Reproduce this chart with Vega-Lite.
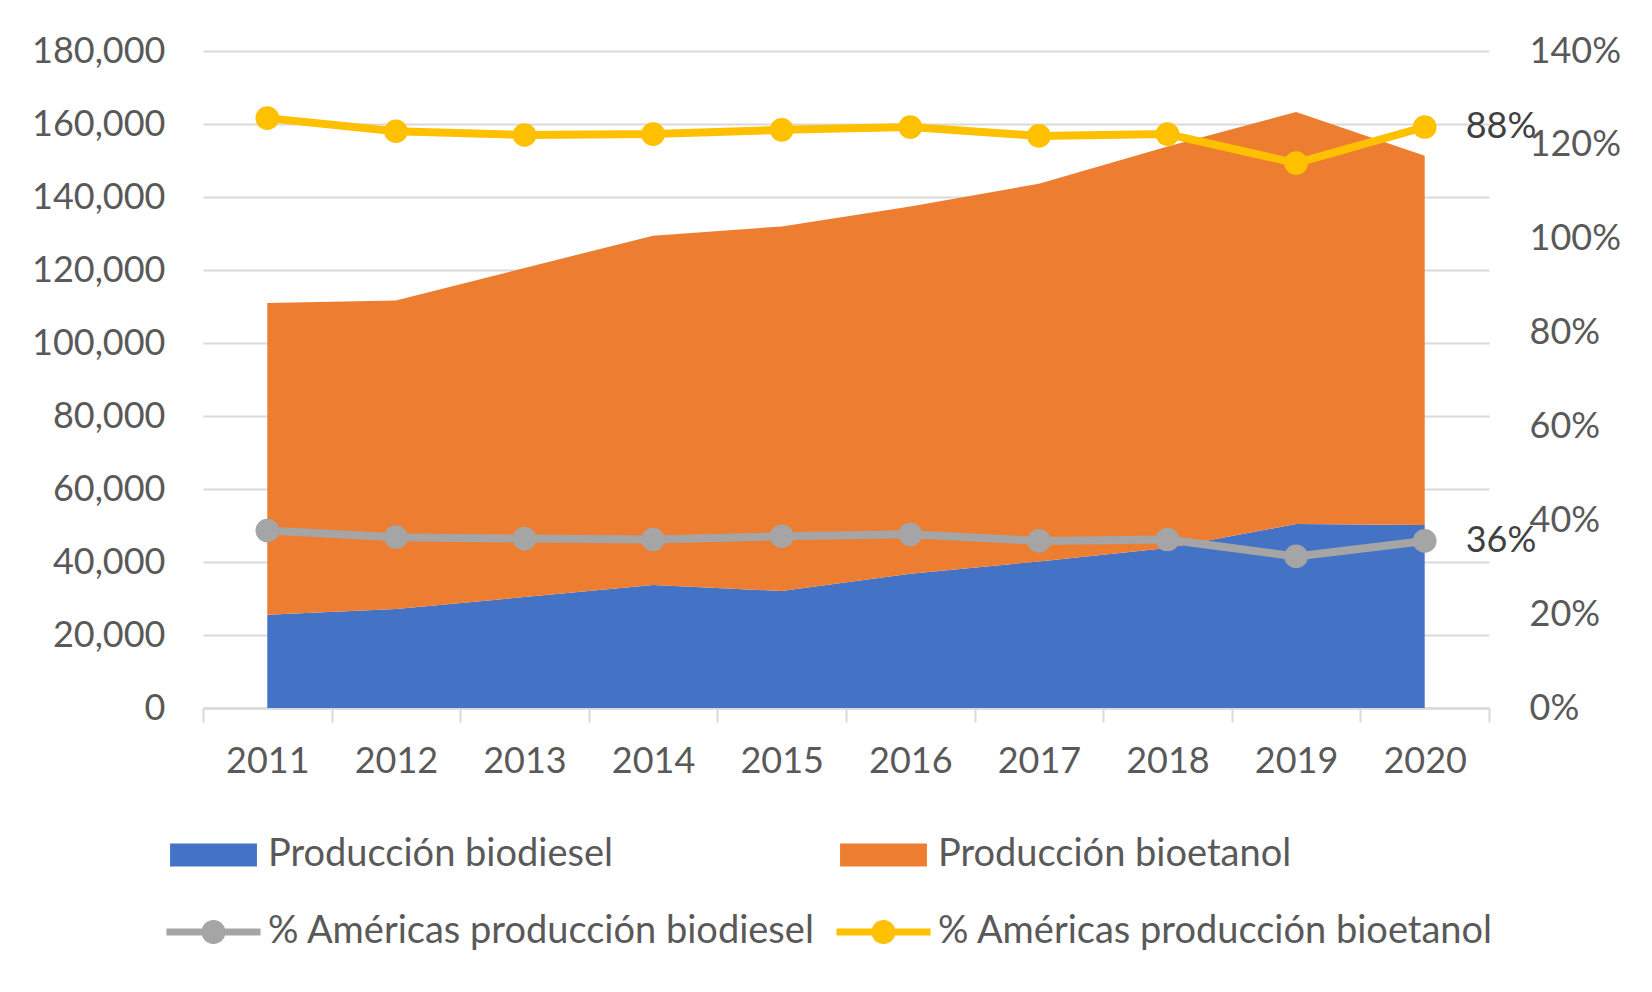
{
  "$schema": "https://vega.github.io/schema/vega-lite/v6.json",
  "autosize": {"type": "none"},
  "padding": {"left": 203, "top": 51, "right": 163, "bottom": 284},
  "width": 1286,
  "height": 657,
  "background": "white",
  "config": {
    "view": {"stroke": null},
    "font": "Lato",
    "axis": {"labelFont": "Lato", "labelFontSize": 36, "labelColor": "#595959", "title": null},
    "legend": {"labelFont": "Lato", "labelFontSize": 38, "labelColor": "#595959"}
  },
  "datasets": {
    "prod": [
      {"year": "2011", "serie": "Producción biodiesel", "ord": 1, "value": 25560},
      {"year": "2012", "serie": "Producción biodiesel", "ord": 1, "value": 27120},
      {"year": "2013", "serie": "Producción biodiesel", "ord": 1, "value": 30400},
      {"year": "2014", "serie": "Producción biodiesel", "ord": 1, "value": 33700},
      {"year": "2015", "serie": "Producción biodiesel", "ord": 1, "value": 32050},
      {"year": "2016", "serie": "Producción biodiesel", "ord": 1, "value": 36800},
      {"year": "2017", "serie": "Producción biodiesel", "ord": 1, "value": 40160},
      {"year": "2018", "serie": "Producción biodiesel", "ord": 1, "value": 43830},
      {"year": "2019", "serie": "Producción biodiesel", "ord": 1, "value": 50410},
      {"year": "2020", "serie": "Producción biodiesel", "ord": 1, "value": 50140},
      {"year": "2011", "serie": "Producción bioetanol", "ord": 2, "value": 85400},
      {"year": "2012", "serie": "Producción bioetanol", "ord": 2, "value": 84550},
      {"year": "2013", "serie": "Producción bioetanol", "ord": 2, "value": 90150},
      {"year": "2014", "serie": "Producción bioetanol", "ord": 2, "value": 95700},
      {"year": "2015", "serie": "Producción bioetanol", "ord": 2, "value": 99900},
      {"year": "2016", "serie": "Producción bioetanol", "ord": 2, "value": 100620},
      {"year": "2017", "serie": "Producción bioetanol", "ord": 2, "value": 103480},
      {"year": "2018", "serie": "Producción bioetanol", "ord": 2, "value": 110040},
      {"year": "2019", "serie": "Producción bioetanol", "ord": 2, "value": 112880},
      {"year": "2020", "serie": "Producción bioetanol", "ord": 2, "value": 101180}
    ],
    "pct": [
      {"year": "2011", "serie": "% Américas producción biodiesel", "ord": 1, "share": 0.378},
      {"year": "2012", "serie": "% Américas producción biodiesel", "ord": 1, "share": 0.364},
      {"year": "2013", "serie": "% Américas producción biodiesel", "ord": 1, "share": 0.361},
      {"year": "2014", "serie": "% Américas producción biodiesel", "ord": 1, "share": 0.359},
      {"year": "2015", "serie": "% Américas producción biodiesel", "ord": 1, "share": 0.366},
      {"year": "2016", "serie": "% Américas producción biodiesel", "ord": 1, "share": 0.370},
      {"year": "2017", "serie": "% Américas producción biodiesel", "ord": 1, "share": 0.356},
      {"year": "2018", "serie": "% Américas producción biodiesel", "ord": 1, "share": 0.359},
      {"year": "2019", "serie": "% Américas producción biodiesel", "ord": 1, "share": 0.323},
      {"year": "2020", "serie": "% Américas producción biodiesel", "ord": 1, "share": 0.356},
      {"year": "2011", "serie": "% Américas producción bioetanol", "ord": 2, "share": 0.879},
      {"year": "2012", "serie": "% Américas producción bioetanol", "ord": 2, "share": 0.865},
      {"year": "2013", "serie": "% Américas producción bioetanol", "ord": 2, "share": 0.860},
      {"year": "2014", "serie": "% Américas producción bioetanol", "ord": 2, "share": 0.864},
      {"year": "2015", "serie": "% Américas producción bioetanol", "ord": 2, "share": 0.866},
      {"year": "2016", "serie": "% Américas producción bioetanol", "ord": 2, "share": 0.868},
      {"year": "2017", "serie": "% Américas producción bioetanol", "ord": 2, "share": 0.863},
      {"year": "2018", "serie": "% Américas producción bioetanol", "ord": 2, "share": 0.864},
      {"year": "2019", "serie": "% Américas producción bioetanol", "ord": 2, "share": 0.838},
      {"year": "2020", "serie": "% Américas producción bioetanol", "ord": 2, "share": 0.882}
    ]
  },
  "layer": [
    {
      "data": {"name": "prod"},
      "mark": {"type": "area", "opacity": 1},
      "encoding": {
        "x": {
          "field": "year", "type": "ordinal", "bandPosition": 0.5,
          "scale": {"type": "band", "paddingInner": 0, "paddingOuter": 0},
          "axis": {
            "labelAngle": 0, "tickBand": "extent", "domainColor": "#d9d9d9", "domainWidth": 2.5,
            "tickColor": "#d9d9d9", "tickWidth": 2, "tickSize": 14, "labelPadding": 22, "grid": false
          }
        },
        "y": {
          "field": "value", "type": "quantitative", "stack": "zero",
          "scale": {"domain": [0, 180000], "nice": false},
          "axis": {
            "values": [0, 20000, 40000, 60000, 80000, 100000, 120000, 140000, 160000, 180000],
            "format": ",.0f", "domain": false, "ticks": false, "labelPadding": 38,
            "grid": true, "gridColor": "#d9d9d9", "gridWidth": 2
          }
        },
        "order": {"field": "ord", "type": "quantitative"},
        "color": {
          "field": "serie", "type": "nominal",
          "scale": {
            "domain": ["Producción biodiesel", "Producción bioetanol", "% Américas producción biodiesel", "% Américas producción bioetanol"],
            "range": ["#4472c4", "#ed7d31", "#a5a5a5", "#ffc000"]
          },
          "legend": {
            "title": null, "orient": "none", "legendX": -13.5, "legendY": 780, "direction": "horizontal",
            "columns": 2, "columnPadding": 20, "rowPadding": 34, "padding": 0,
            "symbolSize": 2304, "labelOffset": 30.5, "labelLimit": 1000,
            "encode": {
              "symbols": {
                "update": {
                  "shape": {"signal": "indexof(datum.value, '%') === 0 ? 'M-1.96,-0.15H1.96V0.15H-1.96Z M0.5,0A0.5,0.5,0,1,1,-0.5,0A0.5,0.5,0,1,1,0.5,0Z' : 'M-1.81,-0.48H1.81V0.48H-1.81Z'"},
                  "fill": {"scale": "color", "field": "value"},
                  "stroke": {"value": "transparent"},
                  "strokeWidth": {"value": 0},
                  "opacity": {"value": 1}
                }
              }
            }
          }
        }
      }
    },
    {
      "data": {"name": "pct"},
      "encoding": {
        "x": {
          "field": "year", "type": "ordinal", "bandPosition": 0.5,
          "scale": {"type": "band", "paddingInner": 0, "paddingOuter": 0}
        },
        "y": {
          "field": "share", "type": "quantitative", "stack": "zero",
          "scale": {"domain": [0, 1.4], "nice": false},
          "axis": {
            "orient": "right", "values": [0, 0.2, 0.4, 0.6, 0.8, 1.0, 1.2, 1.4],
            "format": ".0%", "domain": false, "ticks": false, "grid": false, "labelPadding": 40
          }
        },
        "order": {"field": "ord", "type": "quantitative"},
        "color": {
          "field": "serie", "type": "nominal",
          "legend": {
            "title": null, "orient": "none", "legendX": -13.5, "legendY": 780, "direction": "horizontal",
            "columns": 2, "columnPadding": 20, "rowPadding": 34, "padding": 0,
            "symbolSize": 2304, "labelOffset": 30.5, "labelLimit": 1000,
            "encode": {
              "symbols": {
                "update": {
                  "shape": {"signal": "indexof(datum.value, '%') === 0 ? 'M-1.96,-0.15H1.96V0.15H-1.96Z M0.5,0A0.5,0.5,0,1,1,-0.5,0A0.5,0.5,0,1,1,0.5,0Z' : 'M-1.81,-0.48H1.81V0.48H-1.81Z'"},
                  "fill": {"scale": "color", "field": "value"},
                  "stroke": {"value": "transparent"},
                  "strokeWidth": {"value": 0},
                  "opacity": {"value": 1}
                }
              }
            }
          }
        }
      },
      "layer": [
        {"mark": {"type": "line", "strokeWidth": 8, "strokeJoin": "round"}},
        {"mark": {"type": "point", "filled": true, "size": 560, "opacity": 1}},
        {
          "transform": [{"filter": "datum.year == '2020'"}],
          "mark": {"type": "text", "align": "left", "baseline": "middle", "dx": 41, "fontSize": 36, "font": "Lato"},
          "encoding": {
            "text": {"field": "share", "type": "quantitative", "format": ".0%"},
            "color": {"value": "#404040"},
            "detail": {"field": "serie"}
          }
        }
      ]
    }
  ],
  "resolve": {"scale": {"y": "independent"}}
}
